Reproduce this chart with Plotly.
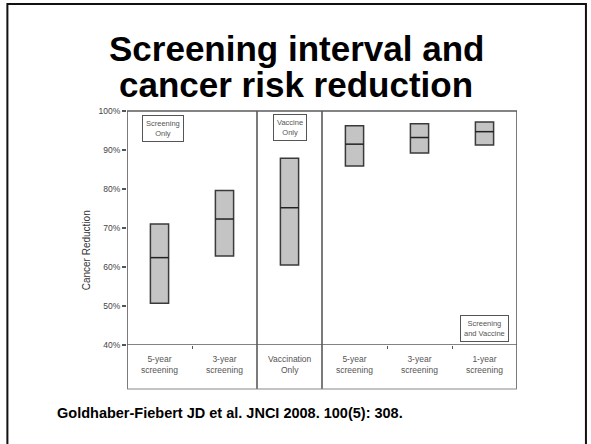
import plotly.graph_objects as go

categories = ["5-year<br>screening", "3-year<br>screening", "Vaccination<br>Only",
              "5-year<br>screening", "3-year<br>screening", "1-year<br>screening"]
low = [50.7, 62.8, 60.5, 85.9, 89.2, 91.3]
median = [62.4, 72.3, 75.2, 91.5, 93.2, 94.7]
high = [71.0, 79.6, 87.9, 96.2, 96.7, 97.2]
ytick_vals = [40, 50, 60, 70, 80, 90, 100]
ytick_text = ["40%", "50%", "60%", "70%", "80%", "90%", "100%"]
group_labels = ["Screening<br>Only", "Vaccine<br>Only", "Screening<br>and Vaccine"]
group_pos = [(0.56, 95.6), (2.5, 95.7), (5.5, 44.3)]

xc = [i + 0.5 for i in range(len(categories))]
bw = 0.28

# plot-area geometry in pixels
L, R, T, B = 126.7, 517.0, 111.0, 345.0
PW, PH = R - L, B - T


def px(x):
    return (x - L) / PW


def py(y):
    return (B - y) / PH


fig = go.Figure()
fig.add_trace(go.Bar(
    x=xc, y=[h - l for h, l in zip(high, low)], base=low, width=bw,
    marker=dict(color="#c4c4c4", line=dict(color="#3a3a3a", width=1.5)),
    hoverinfo="skip", showlegend=False))

mx, my = [], []
for x, m in zip(xc, median):
    mx += [x - bw / 2, x + bw / 2, None]
    my += [m, m, None]
fig.add_trace(go.Scatter(x=mx, y=my, mode="lines",
                         line=dict(color="#222222", width=1.5),
                         hoverinfo="skip", showlegend=False))

shapes = []
frame = dict(color="#5a5a5a", width=1.6)
ybot = py(389)
for xv in [0, 2, 3, 6]:
    shapes.append(dict(type="line", xref="x", yref="paper", x0=xv, x1=xv,
                       y0=ybot, y1=1, line=frame))
shapes.append(dict(type="line", xref="x", yref="paper", x0=0, x1=6, y0=1, y1=1, line=frame))
shapes.append(dict(type="line", xref="x", yref="paper", x0=0, x1=6, y0=ybot, y1=ybot,
                   line=dict(color="#888888", width=1)))
shapes.append(dict(type="line", xref="x", yref="y", x0=0, x1=6, y0=40, y1=40, line=frame))
# slide border
shapes.append(dict(type="rect", xref="paper", yref="paper",
                   x0=px(7), x1=px(586), y0=py(4), y1=py(470),
                   line=dict(color="#111111", width=2), layer="below"))

annotations = []
for i, c in enumerate(categories):
    annotations.append(dict(x=xc[i], y=py(352), xref="x", yref="paper", text=c,
                            showarrow=False, yanchor="top",
                            font=dict(size=8.5, color="#555555", family="Liberation Sans")))
for t, (gx, gy) in zip(group_labels, group_pos):
    annotations.append(dict(x=gx, y=gy, xref="x", yref="y", text=t, showarrow=False,
                            bordercolor="#555555", borderwidth=1, borderpad=3,
                            bgcolor="white",
                            font=dict(size=7.5, color="#555555", family="Liberation Sans")))
for txt, ypix in [("Screening interval and", 48), ("cancer risk reduction", 84)]:
    annotations.append(dict(x=px(296), y=py(ypix),
                            xref="paper", yref="paper", text="<b>" + txt + "</b>",
                            showarrow=False, xanchor="center", yanchor="middle",
                            font=dict(size=35, color="black", family="Liberation Sans")))
annotations.append(dict(x=px(55), y=py(413), xref="paper", yref="paper",
                        text="<b>Goldhaber-Fiebert JD et al. JNCI 2008. 100(5): 308.</b>",
                        showarrow=False, xanchor="left", yanchor="middle",
                        font=dict(size=14.5, color="black", family="Liberation Sans")))
annotations.append(dict(x=px(86), y=py(250), xref="paper", yref="paper",
                        text="Cancer Reduction", textangle=-90, showarrow=False,
                        xanchor="center", yanchor="middle",
                        font=dict(size=10, color="#333333", family="Liberation Sans")))

fig.update_layout(
    width=591, height=444,
    margin=dict(l=L, r=591 - R, t=T, b=444 - B),
    paper_bgcolor="white", plot_bgcolor="white",
    shapes=shapes, annotations=annotations,
    xaxis=dict(range=[0, 6], tickvals=[1, 4, 5], ticktext=["", "", ""],
               ticks="outside", ticklen=3, tickcolor="#555555", showgrid=False,
               zeroline=False, showline=False, fixedrange=True),
    yaxis=dict(range=[40, 100], tickvals=ytick_vals, ticktext=ytick_text,
               ticks="outside", ticklen=4, tickcolor="#555555", tickwidth=1.5,
               showgrid=False, zeroline=False, showline=False, fixedrange=True,
               tickfont=dict(size=8.5, color="#444444", family="Liberation Sans")),
)

fig.write_html("out.html", config={"displayModeBar": False, "staticPlot": True},
               post_script="document.body.style.margin='0';")
